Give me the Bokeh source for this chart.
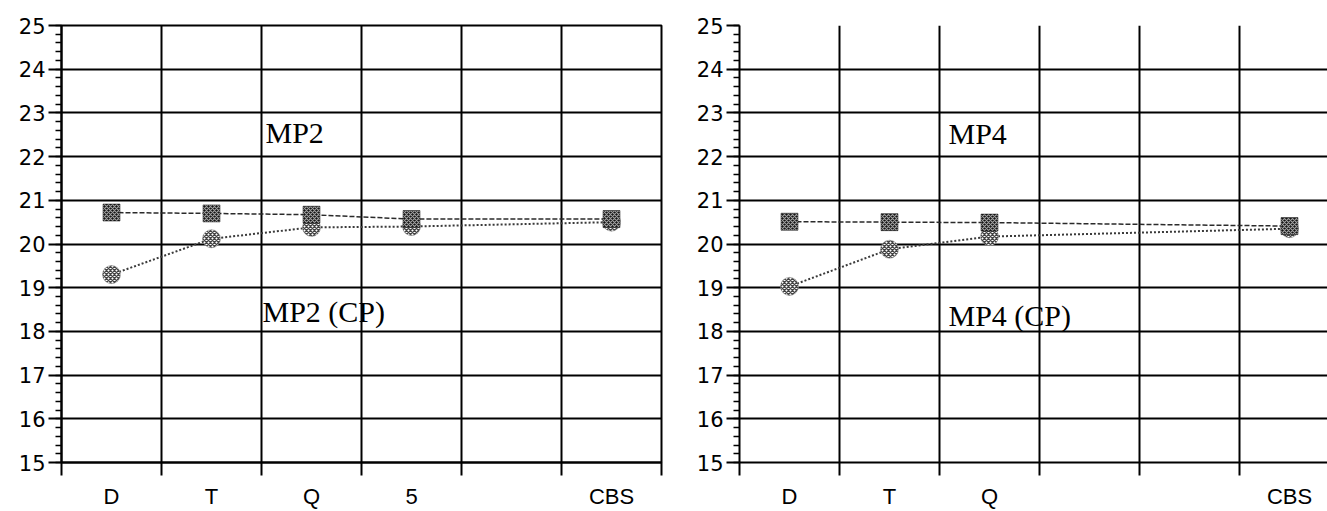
from bokeh.plotting import figure
from bokeh.models import FixedTicker, SingleIntervalTicker, Label, Range1d
from bokeh.layouts import row
from bokeh.embed import file_html
from bokeh.resources import INLINE

# ---- data ----
left_categories = ["D", "T", "Q", "5", "", "CBS"]
right_categories = ["D", "T", "Q", "", "", "CBS"]

mp2_cats = ["D", "T", "Q", "5", "CBS"]
mp2_values = [20.72, 20.7, 20.67, 20.57, 20.57]
mp2_cp_values = [19.3, 20.12, 20.38, 20.4, 20.5]

mp4_cats = ["D", "T", "Q", "CBS"]
mp4_values = [20.51, 20.5, 20.49, 20.41]
mp4_cp_values = [19.03, 19.88, 20.17, 20.35]

y_min, y_max = 15, 25

left_texts = ["MP2", "MP2 (CP)"]
right_texts = ["MP4", "MP4 (CP)"]


def make_panel(categories, cats, sq_vals, ci_vals, texts, text_xy,
               width, x_end, border_right, border_top, border_bottom, outline):
    n = len(categories)
    p = figure(width=width, height=511,
               x_range=Range1d(0, x_end), y_range=Range1d(y_min, y_max),
               output_backend="svg", toolbar_location=None,
               min_border_left=61, min_border_right=border_right,
               min_border_top=border_top, min_border_bottom=border_bottom)
    p.background_fill_color = "white"
    p.border_fill_color = "white"
    if outline:
        p.outline_line_color = "black"
        p.outline_line_width = 2
    else:
        p.outline_line_color = None

    # x axis: labels at category centres, ticks at boundaries
    centres = [categories.index(c) + 0.5 for c in categories if c]
    p.xaxis.ticker = FixedTicker(ticks=centres, minor_ticks=list(range(n + 1)))
    p.xaxis.major_label_overrides = {categories.index(c) + 0.5: c for c in categories if c}
    p.xaxis.major_tick_out = 0
    p.xaxis.major_tick_in = 0
    p.xaxis.minor_tick_out = 13
    p.xaxis.minor_tick_in = 0
    p.xaxis.minor_tick_line_width = 2
    p.xaxis.minor_tick_line_color = "black"
    p.xaxis.axis_line_width = 2
    p.xaxis.axis_line_color = "black"
    p.xaxis.major_label_standoff = 8
    p.xaxis.major_label_text_font = "Liberation Sans"
    p.xaxis.major_label_text_font_size = "22px"
    p.xaxis.major_label_text_color = "black"

    # y axis
    p.yaxis.ticker = SingleIntervalTicker(interval=1, num_minor_ticks=5)
    p.yaxis.major_tick_out = 13
    p.yaxis.major_tick_in = 0
    p.yaxis.minor_tick_out = 6
    p.yaxis.minor_tick_in = 0
    p.yaxis.major_tick_line_width = 2
    p.yaxis.minor_tick_line_width = 1.5
    p.yaxis.major_tick_line_color = "black"
    p.yaxis.minor_tick_line_color = "black"
    p.yaxis.axis_line_width = 2
    p.yaxis.axis_line_color = "black"
    p.yaxis.major_label_standoff = 3
    p.yaxis.major_label_text_font = "DejaVu Sans"
    p.yaxis.major_label_text_font_size = "21px"
    p.yaxis.major_label_text_color = "black"

    # grid
    p.xgrid.ticker = FixedTicker(ticks=list(range(1, n + 1)))
    p.xgrid.grid_line_color = "black"
    p.xgrid.grid_line_width = 2
    p.ygrid.ticker = SingleIntervalTicker(interval=1)
    p.ygrid.grid_line_color = "black"
    p.ygrid.grid_line_width = 2

    xs = [categories.index(c) + 0.5 for c in cats]

    # counterpoise-corrected series (circles, dotted)
    p.line(xs, ci_vals, line_color="#3a3a3a", line_width=2, line_dash="2 2")
    p.scatter(xs, ci_vals, marker="circle", size=18,
              fill_color="white", line_color="#777777", line_width=0.5,
              hatch_pattern="diagonal_cross", hatch_color="#444444",
              hatch_scale=4, hatch_weight=1.4)

    # uncorrected series (squares, dashed)
    p.line(xs, sq_vals, line_color="#2a2a2a", line_width=1.5, line_dash="5 2")
    p.scatter(xs, sq_vals, marker="square", size=17,
              fill_color="#151515", line_color="#151515", line_width=0.5,
              hatch_pattern="diagonal_cross", hatch_color="#a0a0a0",
              hatch_scale=4, hatch_weight=1.2)

    for t, (tx, ty) in zip(texts, text_xy):
        p.add_layout(Label(x=tx, y=ty, text=t, text_font="Liberation Serif",
                           text_font_size="30px", text_color="black",
                           text_baseline="alphabetic", text_align="left"))
    return p


left = make_panel(left_categories, mp2_cats, mp2_values, mp2_cp_values,
                  left_texts, [(2.04, 22.55), (2.01, 18.46)],
                  width=678, x_end=6, border_right=17,
                  border_top=23, border_bottom=48, outline=True)
right = make_panel(right_categories, mp4_cats, mp4_values, mp4_cp_values,
                   right_texts, [(2.09, 22.52), (2.09, 18.36)],
                   width=649, x_end=5.88, border_right=0,
                   border_top=25, border_bottom=46, outline=False)

layout = row(left, right)
open("out.html", "w").write(file_html(layout, INLINE))
